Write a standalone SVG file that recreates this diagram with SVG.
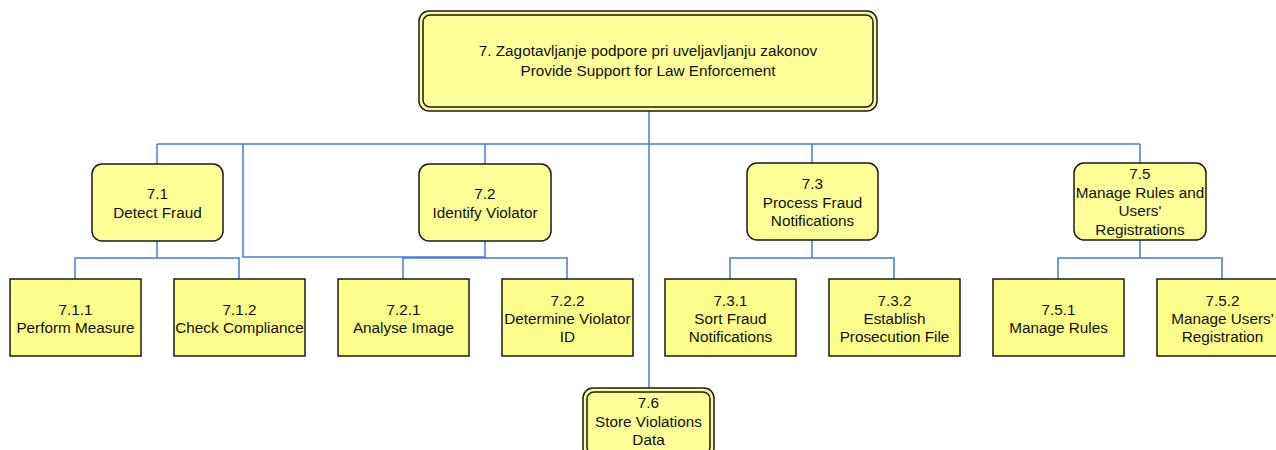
<svg xmlns="http://www.w3.org/2000/svg" width="1276" height="450" viewBox="0 0 1276 450">
  <style>
    .bg { fill: #ffffff; }
    .wire { fill: none; stroke: #4a7bd0; stroke-width: 1.5; }
    .box { fill: #ffff99; stroke: #1a1a1a; stroke-width: 1.5; }
    .leaf { fill: #fdfd8c; stroke: #1a1a1a; stroke-width: 1.5; }
    .lbl { font-family: "Liberation Sans", Arial, sans-serif; font-size: 15.3px; fill: #111111; text-anchor: middle; }
  </style>
  <rect class="bg" x="0" y="0" width="1276" height="450"/>

  <!-- connectors -->
  <g id="connectors">
    <path class="wire" d="M649 111 V388"/>
    <path class="wire" d="M157 144 H1140"/>
    <path class="wire" d="M157 144 V164"/>
    <path class="wire" d="M485 144 V164"/>
    <path class="wire" d="M812 144 V163"/>
    <path class="wire" d="M1140 144 V163"/>
    <path class="wire" d="M243 144 V257 H485"/>
    <!-- 7.1 children -->
    <path class="wire" d="M157 241 V258 M75 279 V258 H239 V279"/>
    <!-- 7.2 children -->
    <path class="wire" d="M485 241 V258 M403 279 V258 H567 V279"/>
    <!-- 7.3 children -->
    <path class="wire" d="M812 240 V258 M730 279 V258 H894 V279"/>
    <!-- 7.5 children -->
    <path class="wire" d="M1140 240 V258 M1058 279 V258 H1222 V279"/>
  </g>

  <!-- root -->
  <g id="n7">
    <rect class="box" x="419" y="11" width="458" height="100" rx="10"/>
    <rect class="box" x="423" y="15" width="450" height="92" rx="7"/>
    <text class="lbl" x="648" y="55.5">7. Zagotavljanje podpore pri uveljavljanju zakonov</text>
    <text class="lbl" x="648" y="75.5">Provide Support for Law Enforcement</text>
  </g>

  <!-- second level -->
  <g id="n7_1">
    <rect class="box" x="92" y="164" width="131" height="77" rx="10"/>
    <text class="lbl" x="157.5" y="198.5">7.1</text>
    <text class="lbl" x="157.5" y="217.5">Detect Fraud</text>
  </g>
  <g id="n7_2">
    <rect class="box" x="419" y="164" width="132" height="77" rx="10"/>
    <text class="lbl" x="485" y="198.5">7.2</text>
    <text class="lbl" x="485" y="217.5">Identify Violator</text>
  </g>
  <g id="n7_3">
    <rect class="box" x="747" y="163" width="131" height="77" rx="10"/>
    <text class="lbl" x="812.5" y="188.5">7.3</text>
    <text class="lbl" x="812.5" y="207.5">Process Fraud</text>
    <text class="lbl" x="812.5" y="225.5">Notifications</text>
  </g>
  <g id="n7_5">
    <rect class="box" x="1074" y="163" width="132" height="77" rx="10"/>
    <text class="lbl" x="1140" y="178.5">7.5</text>
    <text class="lbl" x="1140" y="197.5">Manage Rules and</text>
    <text class="lbl" x="1140" y="216">Users'</text>
    <text class="lbl" x="1140" y="234.5">Registrations</text>
  </g>
  <g id="n7_6">
    <rect class="box" x="583" y="388" width="131" height="70" rx="10"/>
    <rect class="box" x="587" y="392" width="123" height="62" rx="7"/>
    <text class="lbl" x="648.5" y="407.5">7.6</text>
    <text class="lbl" x="648.5" y="426.5">Store Violations</text>
    <text class="lbl" x="648.5" y="444.5">Data</text>
  </g>

  <!-- third level -->
  <g id="n7_1_1">
    <rect class="leaf" x="10" y="279" width="131" height="77"/>
    <text class="lbl" x="75.5" y="314.5">7.1.1</text>
    <text class="lbl" x="75.5" y="332.5">Perform Measure</text>
  </g>
  <g id="n7_1_2">
    <rect class="leaf" x="174" y="279" width="131" height="77"/>
    <text class="lbl" x="239.5" y="314.5">7.1.2</text>
    <text class="lbl" x="239.5" y="332.5">Check Compliance</text>
  </g>
  <g id="n7_2_1">
    <rect class="leaf" x="338" y="279" width="131" height="77"/>
    <text class="lbl" x="403.5" y="314.5">7.2.1</text>
    <text class="lbl" x="403.5" y="332.5">Analyse Image</text>
  </g>
  <g id="n7_2_2">
    <rect class="leaf" x="502" y="279" width="131" height="77"/>
    <text class="lbl" x="567.5" y="305.5">7.2.2</text>
    <text class="lbl" x="567.5" y="323.5">Determine Violator</text>
    <text class="lbl" x="567.5" y="341.5">ID</text>
  </g>
  <g id="n7_3_1">
    <rect class="leaf" x="665" y="279" width="131" height="77"/>
    <text class="lbl" x="730.5" y="305.5">7.3.1</text>
    <text class="lbl" x="730.5" y="323.5">Sort Fraud</text>
    <text class="lbl" x="730.5" y="341.5">Notifications</text>
  </g>
  <g id="n7_3_2">
    <rect class="leaf" x="829" y="279" width="131" height="77"/>
    <text class="lbl" x="894.5" y="305.5">7.3.2</text>
    <text class="lbl" x="894.5" y="323.5">Establish</text>
    <text class="lbl" x="894.5" y="341.5">Prosecution File</text>
  </g>
  <g id="n7_5_1">
    <rect class="leaf" x="993" y="279" width="131" height="77"/>
    <text class="lbl" x="1058.5" y="314.5">7.5.1</text>
    <text class="lbl" x="1058.5" y="332.5">Manage Rules</text>
  </g>
  <g id="n7_5_2">
    <rect class="leaf" x="1157" y="279" width="131" height="77"/>
    <text class="lbl" x="1222.5" y="305.5">7.5.2</text>
    <text class="lbl" x="1222.5" y="323.5">Manage Users'</text>
    <text class="lbl" x="1222.5" y="341.5">Registration</text>
  </g>
</svg>
